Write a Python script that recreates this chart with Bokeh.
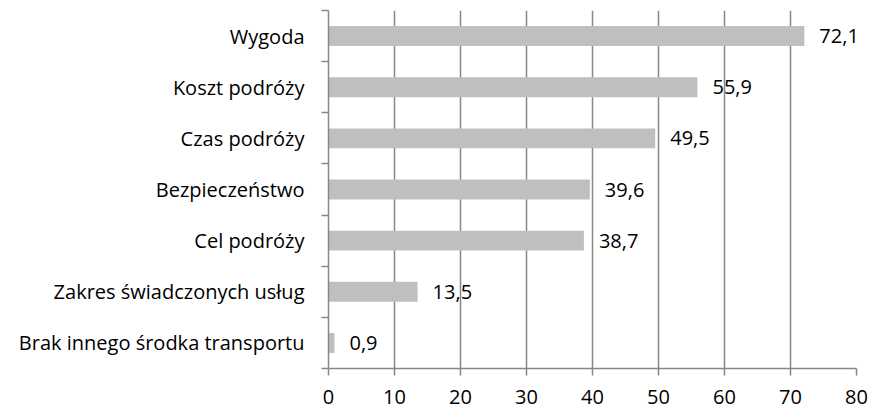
from bokeh.plotting import figure
from bokeh.models import Range1d, FixedTicker, ColumnDataSource
from bokeh.core.properties import value
from bokeh.embed import file_html
from bokeh.resources import INLINE

categories = [
    "Wygoda",
    "Koszt podróży",
    "Czas podróży",
    "Bezpieczeństwo",
    "Cel podróży",
    "Zakres świadczonych usług",
    "Brak innego środka transportu",
]
values = [72.1, 55.9, 49.5, 39.6, 38.7, 13.5, 0.9]
x_ticks = [0, 10, 20, 30, 40, 50, 60, 70, 80]

FONT = "Open Sans"
FS = "20px"
n = len(categories)
ypos = [n - i - 0.5 for i in range(n)]
labels = [f"{v:.1f}".replace(".", ",") for v in values]

src = ColumnDataSource(dict(y=ypos, v=values, lab=labels))

p = figure(width=869, height=410, output_backend="svg", toolbar_location=None,
           x_range=Range1d(0, 80), y_range=Range1d(0, n),
           min_border_left=328, min_border_right=13, min_border_top=10,
           min_border_bottom=42)
p.outline_line_color = None
p.background_fill_color = "white"

p.hbar(y="y", right="v", left=0, height=0.39, source=src,
       fill_color="#BFBFBF", line_color=None)
p.text(x="v", y="y", text="lab", source=src, x_offset=15,
       text_baseline="middle", text_align="left",
       text_font=value(FONT), text_font_size=FS, text_color="#000000")

# x axis
xa = p.xaxis[0]
xa.ticker = FixedTicker(ticks=x_ticks)
xa.axis_line_color = "#878787"
xa.axis_line_width = 1.5
xa.major_tick_line_color = "#878787"
xa.major_tick_line_width = 1.5
xa.major_tick_out = 7
xa.major_tick_in = 0
xa.minor_tick_line_color = None
xa.major_label_standoff = 14
xa.major_label_text_font = FONT
xa.major_label_text_font_size = FS
xa.major_label_text_color = "#000000"

# y axis
ya = p.yaxis[0]
ya.ticker = FixedTicker(ticks=ypos, minor_ticks=list(range(n + 1)))
ya.major_label_overrides = {y: c for y, c in zip(ypos, categories)}
ya.axis_line_color = "#878787"
ya.axis_line_width = 1.5
ya.major_tick_line_color = None
ya.major_tick_out = 0
ya.major_tick_in = 0
ya.minor_tick_line_color = "#878787"
ya.minor_tick_line_width = 1.5
ya.minor_tick_out = 7
ya.minor_tick_in = 0
ya.major_label_standoff = 17
ya.major_label_text_font = FONT
ya.major_label_text_font_size = FS
ya.major_label_text_color = "#000000"

p.xgrid.ticker = FixedTicker(ticks=x_ticks)
p.xgrid.grid_line_color = "#878787"
p.xgrid.grid_line_width = 1.5
p.ygrid.grid_line_color = None

open("out.html", "w").write(file_html(p, INLINE))
